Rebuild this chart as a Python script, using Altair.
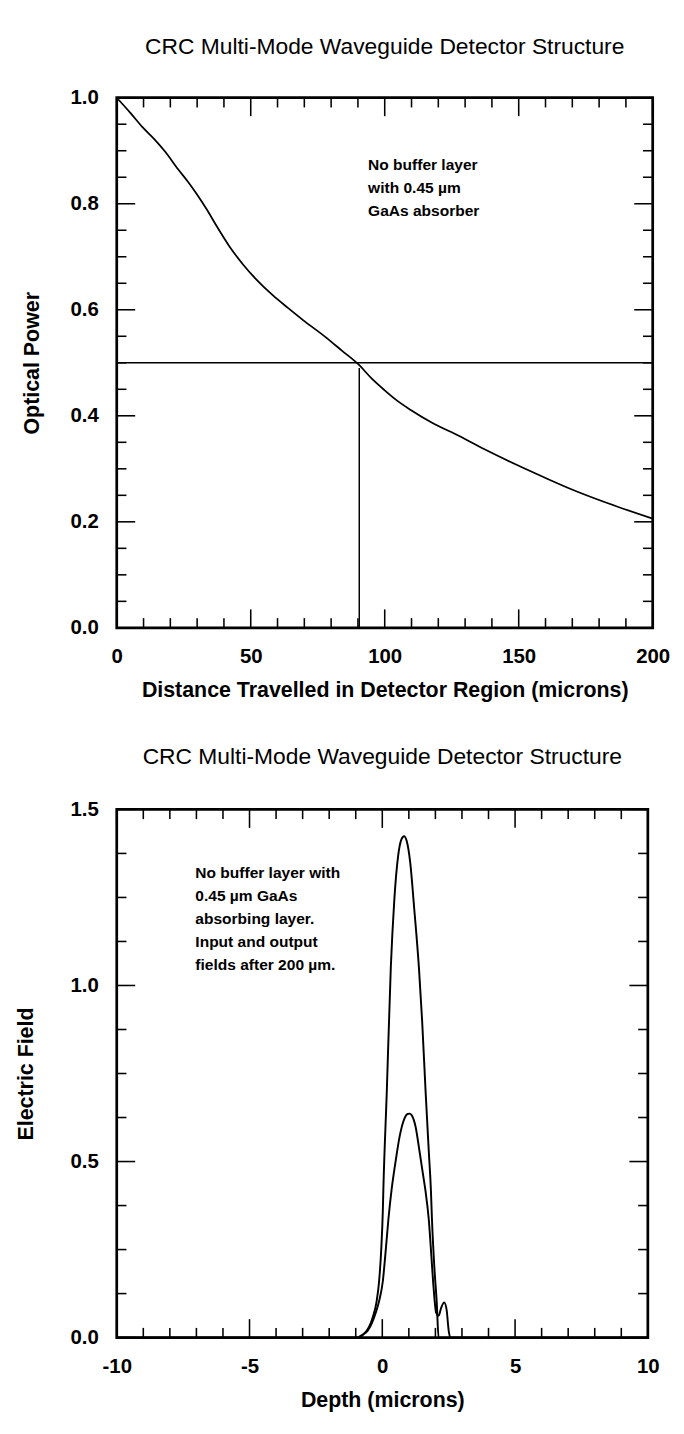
import altair as alt
import pandas as pd

# ---------------- data: top panel ----------------
dist = [0, 5, 9.7, 14, 18.1, 22.9, 26.5, 29.9, 33.5, 37.5, 42, 47.2, 52.5, 58.3, 64,
        69.4, 77.8, 84, 90.6, 95, 100, 104.5, 109.7, 118, 127.8, 138, 148.6, 159,
        169.4, 183.3, 200]
power = [1.0, 0.972, 0.944, 0.922, 0.898, 0.865, 0.842, 0.818, 0.79, 0.756, 0.72,
         0.685, 0.655, 0.627, 0.603, 0.581, 0.549, 0.523, 0.495, 0.471, 0.448, 0.429,
         0.411, 0.386, 0.362, 0.335, 0.309, 0.285, 0.262, 0.235, 0.206]
half_power = 0.5
half_dist = 90.5
half_drop_top = 0.49

top_x_labels = [0, 50, 100, 150, 200]
top_x_minor = [v for v in range(0, 201, 10) if v % 50 != 0]
top_y_labels = [0.0, 0.2, 0.4, 0.6, 0.8, 1.0]
top_y_minor = [round(0.05 * i, 2) for i in range(21) if i % 4 != 0]

top_note = "No buffer layer\nwith 0.45 µm\nGaAs absorber"
top_note_x = 93.8
top_note_y = 0.887

# ---------------- data: bottom panel ----------------
in_depth = [-10, -0.9, -0.7, -0.5, -0.35, -0.22, -0.12, -0.04, 0.02, 0.04, 0.17, 0.32,
            0.45, 0.6, 0.72, 0.82, 0.92, 1.05, 1.2, 1.38, 1.5, 1.63, 1.75, 1.83, 1.87,
            1.96, 2.05, 2.12, 10]
in_field = [0, 0, 0.01, 0.03, 0.06, 0.1, 0.16, 0.25, 0.36, 0.42, 0.7, 1.05, 1.24, 1.37,
            1.415, 1.424, 1.41, 1.35, 1.22, 1.05, 0.9, 0.7, 0.53, 0.42, 0.336, 0.2,
            0.1, 0.0, 0]
out_depth = [-10, -0.95, -0.75, -0.55, -0.4, -0.25, -0.1, 0.02, 0.12, 0.23, 0.35, 0.5,
             0.65, 0.8, 0.95, 1.04, 1.12, 1.25, 1.4, 1.52, 1.62, 1.75, 1.85, 1.93, 2.03,
             2.12, 2.22, 2.33, 2.42, 2.5, 2.56, 10]
out_field = [0, 0, 0.008, 0.02, 0.04, 0.07, 0.11, 0.16, 0.24, 0.336, 0.42, 0.5, 0.57,
             0.615, 0.635, 0.636, 0.63, 0.6, 0.53, 0.47, 0.42, 0.336, 0.23, 0.143, 0.07,
             0.062, 0.085, 0.1, 0.08, 0.02, 0.0, 0]

bot_x_labels = [-10, -5, 0, 5, 10]
bot_x_minor = [v for v in range(-10, 11) if v % 5 != 0]
bot_y_labels = [0.0, 0.5, 1.0, 1.5]
bot_y_minor = [0.125 * i for i in range(13) if i % 4 != 0]

bot_note = "No buffer layer with\n0.45 µm GaAs\nabsorbing layer.\nInput and output\nfields after 200 µm."
bot_note_x = -7.04
bot_note_y = 1.34

TITLE = "CRC Multi-Mode Waveguide Detector Structure"
FONT = "Liberation Sans"
MAJOR = 19
MINOR = 10


def frame_ticks(xs_major, xs_minor, ys_major, ys_minor, sx, sy, ax, ay, W, H):
    layers = []
    for vals, ln in ((xs_major, MAJOR), (xs_minor, MINOR)):
        df = pd.DataFrame({"v": vals})
        base = alt.Chart(df).mark_rule(color="black", strokeWidth=1.6)
        layers.append(base.encode(x=alt.X("v:Q", scale=sx, axis=ax),
                                  y=alt.value(H), y2=alt.value(H - ln)))
        layers.append(base.encode(x=alt.X("v:Q", scale=sx, axis=ax),
                                  y=alt.value(0), y2=alt.value(ln)))
    for vals, ln in ((ys_major, MAJOR), (ys_minor, MINOR)):
        df = pd.DataFrame({"v": vals})
        base = alt.Chart(df).mark_rule(color="black", strokeWidth=1.6)
        layers.append(base.encode(y=alt.Y("v:Q", scale=sy, axis=ay),
                                  x=alt.value(0), x2=alt.value(ln)))
        layers.append(base.encode(y=alt.Y("v:Q", scale=sy, axis=ay),
                                  x=alt.value(W), x2=alt.value(W - ln)))
    return layers


# ---------------- top panel ----------------
TW, TH = 552, 546
sx1 = alt.Scale(domain=[0, 200], nice=False, zero=False)
sy1 = alt.Scale(domain=[0, 1], nice=False, zero=False)
ax1 = alt.Axis(values=top_x_labels, labelExpr="'' + datum.value", labelFlush=False,
               title="Distance Travelled in Detector Region (microns)", titlePadding=14)
ay1 = alt.Axis(values=top_y_labels, format=".1f", labelFlush=False,
               title="Optical Power", titlePadding=27)

df1 = pd.DataFrame({"d": dist, "p": power})
curve1 = alt.Chart(df1).mark_line(color="black", strokeWidth=1.8, interpolate="monotone").encode(
    x=alt.X("d:Q", scale=sx1, axis=ax1),
    y=alt.Y("p:Q", scale=sy1, axis=ay1),
)
hline = alt.Chart(pd.DataFrame({"x": [0], "x2": [200], "y": [half_power]})).mark_rule(
    color="black", strokeWidth=1.5).encode(
    x=alt.X("x:Q", scale=sx1, axis=ax1), x2="x2:Q", y=alt.Y("y:Q", scale=sy1, axis=ay1))
vline = alt.Chart(pd.DataFrame({"x": [half_dist], "y": [0], "y2": [half_drop_top]})).mark_rule(
    color="black", strokeWidth=1.5).encode(
    x=alt.X("x:Q", scale=sx1, axis=ax1), y=alt.Y("y:Q", scale=sy1, axis=ay1), y2="y2:Q")
note1 = alt.Chart(pd.DataFrame({"x": [top_note_x], "y": [top_note_y], "t": [top_note]})).mark_text(
    align="left", baseline="top", font=FONT, fontSize=16, fontWeight="bold",
    lineBreak="\n", lineHeight=23.5, color="black").encode(
    x=alt.X("x:Q", scale=sx1, axis=ax1), y=alt.Y("y:Q", scale=sy1, axis=ay1), text="t:N")

top = alt.layer(
    curve1, hline, vline, note1,
    *frame_ticks(top_x_labels, top_x_minor, top_y_labels, top_y_minor, sx1, sy1, ax1, ay1, TW, TH)
).properties(width=TW, height=TH, title=alt.TitleParams(TITLE, offset=30))

# ---------------- bottom panel ----------------
BW, BH = 547, 544
sx2 = alt.Scale(domain=[-10, 10], nice=False, zero=False)
sy2 = alt.Scale(domain=[0, 1.5], nice=False, zero=False)
ax2 = alt.Axis(values=bot_x_labels, labelExpr="'' + datum.value", labelFlush=False,
               title="Depth (microns)", titlePadding=14)
ay2 = alt.Axis(values=bot_y_labels, format=".1f", labelFlush=False,
               title="Electric Field", titlePadding=34)

df2 = pd.concat([
    pd.DataFrame({"depth": in_depth, "field": in_field, "s": "input"}),
    pd.DataFrame({"depth": out_depth, "field": out_field, "s": "output"}),
])
curve2 = alt.Chart(df2).mark_line(color="black", strokeWidth=2, interpolate="monotone").encode(
    x=alt.X("depth:Q", scale=sx2, axis=ax2),
    y=alt.Y("field:Q", scale=sy2, axis=ay2),
    detail="s:N",
)
note2 = alt.Chart(pd.DataFrame({"x": [bot_note_x], "y": [bot_note_y], "t": [bot_note]})).mark_text(
    align="left", baseline="top", font=FONT, fontSize=16, fontWeight="bold",
    lineBreak="\n", lineHeight=23.5, color="black").encode(
    x=alt.X("x:Q", scale=sx2, axis=ax2), y=alt.Y("y:Q", scale=sy2, axis=ay2), text="t:N")

bottom = alt.layer(
    curve2, note2,
    *frame_ticks(bot_x_labels, bot_x_minor, bot_y_labels, bot_y_minor, sx2, sy2, ax2, ay2, BW, BH)
).properties(width=BW, height=BH, title=alt.TitleParams(TITLE, offset=31))

chart = alt.vconcat(top, bottom, spacing=43).configure_view(
    stroke="black", strokeWidth=2.8
).configure_axis(
    domain=False, ticks=False, grid=False,
    labelFont=FONT, labelFontWeight="bold", labelFontSize=21, labelColor="black",
    labelPadding=19, labelOverlap=False,
    titleFont=FONT, titleFontWeight="bold", titleFontSize=22, titleColor="black",
).configure_title(
    font=FONT, fontSize=23.5, fontWeight="normal", color="black", anchor="middle"
).properties(background="white")

chart.save("out.html", embed_options={"renderer": "svg", "actions": False})
